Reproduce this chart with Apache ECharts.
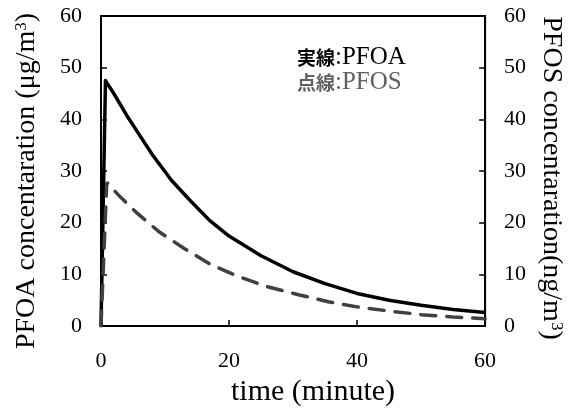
<!DOCTYPE html>
<html>
<head>
<meta charset="utf-8">
<script src="https://cdn.jsdelivr.net/npm/echarts@6/dist/echarts.min.js"></script>
<style>
  html, body { margin: 0; padding: 0; background: #fff; }
  #main { width: 573px; height: 412px; }
</style>
</head>
<body>
<div id="main"></div>
<script>
var chart = echarts.init(document.getElementById('main'));

// time (minute) and concentration
const pfoaTime = [0, 0.7, 2, 4, 6, 8, 11, 14, 17, 20, 25, 30, 35, 40, 45, 50, 55, 60];
const pfoaConc = [0, 47.5, 45, 40.8, 37, 33.2, 28.2, 24.2, 20.4, 17.4, 13.6, 10.5, 8.2, 6.3, 5.0, 4.0, 3.2, 2.6];
const pfosTime = [0, 0.9, 3, 5.5, 9, 13, 17, 21, 26, 31, 35.5, 40, 45, 50, 55, 60];
const pfosConc = [0, 27.8, 25, 22, 18.3, 15, 12, 9.8, 7.6, 6.0, 4.7, 3.7, 2.9, 2.2, 1.75, 1.4];

const xTicks = [0, 20, 40, 60];
const yTicks = [0, 10, 20, 30, 40, 50, 60];

const serif = 'Liberation Serif';
const cjk = 'Noto Sans CJK JP';

function pairs(xs, ys) {
  return xs.map(function (x, i) { return [x, ys[i]]; });
}

function yAxisCfg(pos, name, gap, rot, pad) {
  return {
    type: 'value',
    position: pos,
    min: yTicks[0],
    max: yTicks[yTicks.length - 1],
    interval: 10,
    name: name,
    nameLocation: 'middle',
    nameGap: gap,
    nameRotate: rot,
    nameTextStyle: {
      fontFamily: serif, fontSize: 28, color: '#000', padding: pad,
      rich: { s: { fontFamily: serif, fontSize: 17, color: '#000', verticalAlign: 'top' } }
    },
    axisLine: { show: true, lineStyle: { color: '#000', width: 2 } },
    axisTick: { show: true, inside: true, length: 6, lineStyle: { color: '#000', width: 1.5 } },
    axisLabel: { fontFamily: serif, fontSize: 22, color: '#000', margin: 19 },
    splitLine: { show: false }
  };
}

var option = {
  backgroundColor: '#fff',
  animation: false,
  grid: { left: 101, right: 86, top: 16, bottom: 80, show: true, borderColor: '#000', borderWidth: 2 },
  title: {
    left: 292, top: 40,
    text: '{a|実線}{b|:PFOA}\n{c|点線}{d|:PFOS}',
    textStyle: {
      fontWeight: 'normal',
      lineHeight: 25,
      rich: {
        a: { fontFamily: cjk, fontWeight: 'bold', fontSize: 19, color: '#000', lineHeight: 25 },
        b: { fontFamily: serif, fontWeight: 'normal', fontSize: 25, color: '#000', lineHeight: 25 },
        c: { fontFamily: cjk, fontWeight: 'bold', fontSize: 19, color: '#606060', lineHeight: 25 },
        d: { fontFamily: serif, fontWeight: 'normal', fontSize: 25, color: '#606060', lineHeight: 25 }
      }
    }
  },
  xAxis: {
    type: 'value',
    min: xTicks[0],
    max: xTicks[xTicks.length - 1],
    interval: 20,
    name: 'time (minute)',
    nameLocation: 'middle',
    nameGap: 51,
    nameTextStyle: { fontFamily: serif, fontSize: 30, color: '#000', padding: [0, 0, 0, 40] },
    axisLine: { show: true, lineStyle: { color: '#000', width: 2 } },
    axisTick: { show: true, inside: true, length: 6, lineStyle: { color: '#000', width: 1.5 } },
    axisLabel: { fontFamily: serif, fontSize: 22, color: '#000', margin: 24 },
    splitLine: { show: false }
  },
  yAxis: [
    yAxisCfg('left', 'PFOA concentaration (μg/m{s|3})', 60, 90, [0, 20, 0, 0]),
    yAxisCfg('right', 'PFOS concentaration(ng/m{s|3})', 48, -90, [0, 0, 0, 14])
  ],
  series: [
    {
      name: 'PFOA',
      type: 'line',
      yAxisIndex: 0,
      data: pairs(pfoaTime, pfoaConc),
      showSymbol: false,
      lineStyle: { color: '#000', width: 3.5, join: 'round' }
    },
    {
      name: 'PFOS',
      type: 'line',
      yAxisIndex: 1,
      data: pairs(pfosTime, pfosConc),
      showSymbol: false,
      lineStyle: { color: '#404040', width: 3.5, type: [15, 11], cap: 'round' }
    }
  ]
};

chart.setOption(option);
</script>
</body>
</html>
